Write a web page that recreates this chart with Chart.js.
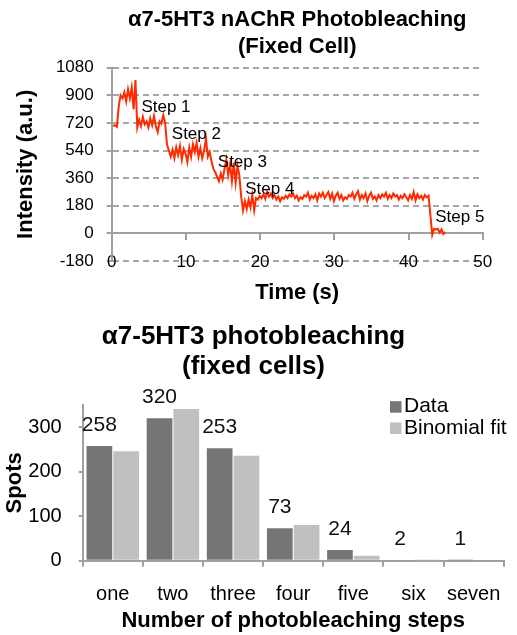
<!DOCTYPE html>
<html>
<head>
<meta charset="utf-8">
<script src="https://cdn.jsdelivr.net/npm/chart.js@4/dist/chart.umd.min.js"></script>
<style>
    body { margin: 0; background: #fff; }
    .box { position: relative; width: 517px; }
    canvas { display: block; }
</style>
</head>
<body>
<div class="box"><canvas id="traceChart" width="517" height="312"></canvas></div>
<div class="box"><canvas id="barChart" width="517" height="323"></canvas></div>
<script>
// top chart: intensity trace, sampled every 0.25 s from t = 0.2 s
const traceStart = 0.2
const traceStep = 0.25
const traceValues = [
    700, 705, 695, 830, 900, 880, 920, 860, 940, 880, 950, 810, 1000, 690, 740, 700,
    760, 710, 730, 690, 750, 705, 765, 700, 660, 730, 715, 770, 720, 580, 540, 500,
    545, 490, 560, 510, 570, 480, 550, 520, 465, 560, 500, 580, 530, 590, 500, 555,
    490, 540, 620, 500, 530, 470, 420, 400, 370, 340, 390, 350, 420, 480, 380, 450,
    340, 460, 330, 440, 380, 240, 150, 210, 160, 220, 170, 250, 150, 230, 220, 245,
    230, 255, 225, 270, 240, 260, 230, 250, 220, 240, 210, 235, 225, 245, 230, 255,
    240, 260, 230, 245, 215, 235, 225, 250, 240, 265, 220, 245, 230, 255, 215, 260,
    240, 265, 230, 250, 270, 225, 260, 210, 245, 265, 225, 250, 215, 235, 225, 250,
    240, 265, 225, 255, 275, 220, 250, 230, 260, 210, 245, 265, 225, 240, 215, 250,
    230, 255, 240, 265, 225, 250, 230, 260, 240, 250, 220, 245, 230, 255, 235, 215,
    250, 225, 270, 215, 255, 230, 245, 220, 250, 235, 245, 120, -10, 30, 25, 30,
    5, 25, -5, 10
]
// step annotations (time s, intensity a.u.)
const stepLabels = ["Step 1", "Step 2", "Step 3", "Step 4", "Step 5"]
const stepTimes = [4.0, 8.1, 14.3, 18.0, 43.6]
const stepLevels = [824, 644, 466, 286, 108]

// bottom chart: photobleaching step counts
const categories = ["one", "two", "three", "four", "five", "six", "seven"]
const dataCounts = [258, 320, 253, 73, 24, 2, 1]
const binomialFit = [246, 341, 236, 80, 11, 1, 0]

Chart.defaults.font.family = "'Liberation Sans', Arial, Helvetica, sans-serif"
Chart.defaults.color = "#000"

const axisGray = "#a0a0a0"

let tracePoints = []
for (let i = 0; i < traceValues.length; i++) {
    tracePoints.push({x: traceStart + i * traceStep, y: traceValues[i]})
}

// writes "Step n" next to each bleaching step
const stepTextPlugin = {
    id: "stepText",
    afterDatasetsDraw(chart) {
        const ctx = chart.ctx
        const xs = chart.scales.x
        const ys = chart.scales.y
        ctx.save()
        ctx.font = "17px 'Liberation Sans', Arial, sans-serif"
        ctx.fillStyle = "#000"
        ctx.textAlign = "left"
        ctx.textBaseline = "middle"
        for (let i = 0; i < stepLabels.length; i++) {
            ctx.fillText(stepLabels[i], xs.getPixelForValue(stepTimes[i]), ys.getPixelForValue(stepLevels[i]))
        }
        ctx.restore()
    }
}

new Chart(document.getElementById("traceChart").getContext("2d"), {
    type: "line",
    data: {
        datasets: [{
            data: tracePoints,
            borderColor: "#ff2a00",
            borderWidth: 2,
            pointRadius: 0,
            tension: 0,
            xAxisID: "x",
            yAxisID: "y"
        }]
    },
    options: {
        responsive: false,
        animation: false,
        devicePixelRatio: 1,
        layout: {padding: {left: 0, right: 34.3, top: 0, bottom: 0}},
        plugins: {
            legend: {display: false},
            tooltip: {enabled: false},
            title: {
                display: true,
                fullSize: false,   // centre over the plot, like the original
                text: ["α7-5HT3 nAChR Photobleaching", "(Fixed Cell)"],
                font: {size: 22, weight: "bold", lineHeight: 1.227},
                color: "#000",
                padding: {top: 6.5, bottom: 7.2}
            }
        },
        scales: {
            // bottom axis only carries the title
            x: {
                type: "linear",
                min: 0,
                max: 50,
                ticks: {stepSize: 10, display: false},
                grid: {display: false},
                border: {display: false},
                title: {display: true, text: "Time (s)", font: {size: 22, weight: "bold"}, color: "#000", padding: {top: 0, bottom: 6}},
                afterFit: (s) => { s.height = 51 }
            },
            // axis line crosses at y = 0, labels sit at the -180 line
            x2: {
                type: "linear",
                min: 0,
                max: 50,
                position: {y: 0},
                ticks: {stepSize: 10, font: {size: 17}, color: "#000", padding: 13, maxRotation: 0},
                grid: {drawOnChartArea: false, tickLength: 6, color: axisGray, lineWidth: 2},
                border: {display: true, color: axisGray, width: 2}
            },
            y: {
                min: -180,
                max: 1080,
                ticks: {stepSize: 180, font: {size: 17}, color: "#000", padding: 13, callback: (v) => "" + v},
                grid: {color: "#a6a6a6", lineWidth: 2, tickLength: 5, tickColor: axisGray},
                border: {display: true, color: axisGray, width: 2, dash: [6, 4]},
                title: {display: true, text: "Intensity (a.u.)", font: {size: 22, weight: "bold"}, color: "#000", padding: {top: 12.6, bottom: 0}},
                afterFit: (s) => { s.width = 111.7 }
            }
        }
    },
    plugins: [stepTextPlugin]
})

// value labels above the Data bars
const barValuePlugin = {
    id: "barValues",
    afterDatasetsDraw(chart) {
        const ctx = chart.ctx
        const meta = chart.getDatasetMeta(0)
        ctx.save()
        ctx.font = "21px 'Liberation Sans', Arial, sans-serif"
        ctx.fillStyle = "#111"
        ctx.textAlign = "center"
        ctx.textBaseline = "middle"
        meta.data.forEach((bar, i) => {
            ctx.fillText("" + dataCounts[i], bar.x, bar.y - 21)
        })
        ctx.restore()
    }
}

// legend sits inside the plot, top right
const boxLegendPlugin = {
    id: "boxLegend",
    afterDraw(chart) {
        const ctx = chart.ctx
        const sets = chart.data.datasets
        const x0 = 390
        const rows = [94.7, 116]
        ctx.save()
        ctx.font = "21px 'Liberation Sans', Arial, sans-serif"
        ctx.textAlign = "left"
        ctx.textBaseline = "middle"
        sets.forEach((ds, i) => {
            ctx.fillStyle = ds.backgroundColor
            ctx.fillRect(x0, rows[i] - 5.5, 11.5, 11.5)
            ctx.fillStyle = "#000"
            ctx.fillText(ds.label, x0 + 14, rows[i])
        })
        ctx.restore()
    }
}

new Chart(document.getElementById("barChart").getContext("2d"), {
    type: "bar",
    data: {
        labels: categories,
        datasets: [
            {label: "Data", data: dataCounts, backgroundColor: "#757575", categoryPercentage: 0.89, barPercentage: 0.96},
            {label: "Binomial fit", data: binomialFit, backgroundColor: "#c0c0c0", categoryPercentage: 0.89, barPercentage: 0.96}
        ]
    },
    options: {
        responsive: false,
        animation: false,
        devicePixelRatio: 1,
        layout: {padding: {left: 0, right: 10, top: 0, bottom: 0}},
        plugins: {
            legend: {display: false},
            tooltip: {enabled: false},
            title: {
                display: true,
                text: ["α7-5HT3 photobleaching", "(fixed cells)"],
                font: {size: 26, weight: "bold", lineHeight: 1.154},
                color: "#000",
                padding: {top: 10.3, bottom: 22.7}
            }
        },
        scales: {
            x: {
                ticks: {font: {size: 20}, color: "#000", padding: 16, autoSkip: false, maxRotation: 0},
                grid: {drawOnChartArea: false, tickLength: 6, color: axisGray, lineWidth: 2},
                border: {display: true, color: axisGray, width: 2},
                title: {display: true, text: "Number of photobleaching steps", font: {size: 22, weight: "bold"}, color: "#000", padding: {top: 0, bottom: 1}},
                afterFit: (s) => { s.height = 74.3 }
            },
            y: {
                min: 0,
                max: 350,
                ticks: {stepSize: 100, font: {size: 20}, color: "#000", padding: 17},
                afterBuildTicks: (s) => { s.ticks = s.ticks.filter(t => t.value % 100 === 0) },
                grid: {drawOnChartArea: false, tickLength: 4, color: axisGray, lineWidth: 2},
                border: {display: true, color: axisGray, width: 2},
                title: {display: true, text: "Spots", font: {size: 22, weight: "bold"}, color: "#000", padding: {top: 1.8, bottom: 0}},
                afterFit: (s) => { s.width = 82.7 }
            }
        }
    },
    plugins: [barValuePlugin, boxLegendPlugin]
})
</script>
</body>
</html>
